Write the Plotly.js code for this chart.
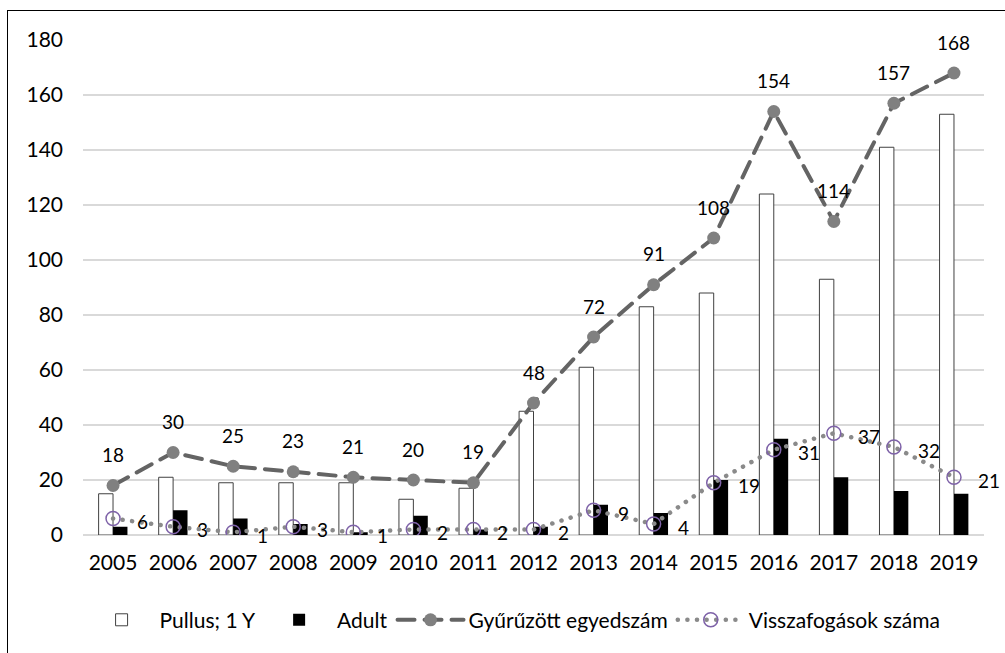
<!DOCTYPE html>
<html>
<head>
<meta charset="utf-8">
<script src="https://cdn.plot.ly/plotly-3.0.1.min.js"></script>
<style>
  html, body { margin: 0; padding: 0; background: #ffffff; }
  #wrap { position: relative; width: 1005px; height: 653px; overflow: hidden; }
  #chart { position: absolute; left: 0; top: 0; width: 1005px; height: 653px; }
  #frame { position: absolute; left: 7px; top: 10px; width: 1010px; height: 700px;
           border-left: 1.5px solid #000; border-top: 1.5px solid #000; pointer-events: none; }
  .scatterlayer .js-line { stroke-linecap: round; }
  .legend .js-line { stroke-linecap: round; }
</style>
</head>
<body>
<div id="wrap">
  <div id="chart"></div>
  <div id="frame"></div>
</div>
<script>
const years = ['2005','2006','2007','2008','2009','2010','2011','2012','2013','2014','2015','2016','2017','2018','2019'];
const pullus = [15, 21, 19, 19, 19, 13, 17, 45, 61, 83, 88, 124, 93, 141, 153];
const adult = [3, 9, 6, 4, 1, 7, 2, 3, 11, 8, 20, 35, 21, 16, 15];
const gyuruzott = [18, 30, 25, 23, 21, 20, 19, 48, 72, 91, 108, 154, 114, 157, 168];
const visszafogasok = [6, 3, 1, 3, 1, 2, 2, 2, 9, 4, 19, 31, 37, 32, 21];
const yTicks = [0, 20, 40, 60, 80, 100, 120, 140, 160, 180];

const FONT = 'Lato, "Open Sans", sans-serif';

const traces = [
  {
    type: 'bar', name: 'Pullus; 1 Y', x: years, y: pullus,
    marker: { color: '#ffffff', line: { color: '#404040', width: 1 } }
  },
  {
    type: 'bar', name: 'Adult', x: years, y: adult,
    marker: { color: '#000000', line: { color: '#000000', width: 0 } }
  },
  {
    type: 'scatter', mode: 'lines+markers', name: 'Gyűrűzött egyedszám', x: years, y: gyuruzott,
    line: { color: '#646464', width: 4, dash: '17px,10px' },
    marker: { color: '#808080', size: 13, symbol: 'circle' }
  },
  {
    type: 'scatter', mode: 'lines+markers', name: 'Visszafogások száma', x: years, y: visszafogasok,
    line: { color: '#8a8a8a', width: 4.5, dash: '0.1px,9.5px' },
    marker: { color: '#7e62a8', size: 14, symbol: 'circle-open', line: { color: '#7e62a8', width: 1.5 } }
  }
];

const annotations = [];
years.forEach((yr, i) => {
  annotations.push({
    x: i, y: gyuruzott[i], xref: 'x', yref: 'y', text: String(gyuruzott[i]),
    showarrow: false, yshift: 31, font: { family: FONT, size: 19, color: '#000' }
  });
  annotations.push({
    x: i, y: visszafogasok[i], xref: 'x', yref: 'y', text: String(visszafogasok[i]),
    showarrow: false, xanchor: 'left', xshift: 22, yshift: -3,
    font: { family: FONT, size: 19, color: '#000' }
  });
});

const layout = {
  width: 1005, height: 653,
  margin: { l: 83, r: 21, t: 40, b: 118, pad: 0 },
  paper_bgcolor: '#ffffff', plot_bgcolor: '#ffffff',
  font: { family: FONT, size: 21, color: '#000' },
  barmode: 'group', bargap: 0.52, bargroupgap: 0,
  showlegend: true,
  legend: {
    orientation: 'h', x: 0.479, xanchor: 'center', y: -0.172, yanchor: 'middle',
    font: { family: FONT, size: 21, color: '#000' }, traceorder: 'normal',
    itemwidth: 66, tracegroupgap: 0
  },
  xaxis: {
    type: 'category', range: [-0.5, years.length - 0.5], autorange: false,
    showgrid: false, zeroline: false, showline: false,
    ticks: '', ticklabelstandoff: 13,
    tickfont: { family: FONT, size: 21, color: '#000' }
  },
  yaxis: {
    range: [0, 180], autorange: false, tickvals: yTicks, ticktext: yTicks.map(String),
    showgrid: true, gridcolor: '#d9d9d9', gridwidth: 1.5,
    zeroline: true, zerolinecolor: '#d9d9d9', zerolinewidth: 1.5,
    showline: false, ticks: '', ticklabelstandoff: 19,
    tickfont: { family: FONT, size: 21, color: '#000' }
  },
  annotations: annotations
};

Plotly.newPlot('chart', traces, layout, { displayModeBar: false, staticPlot: true });
</script>
</body>
</html>
